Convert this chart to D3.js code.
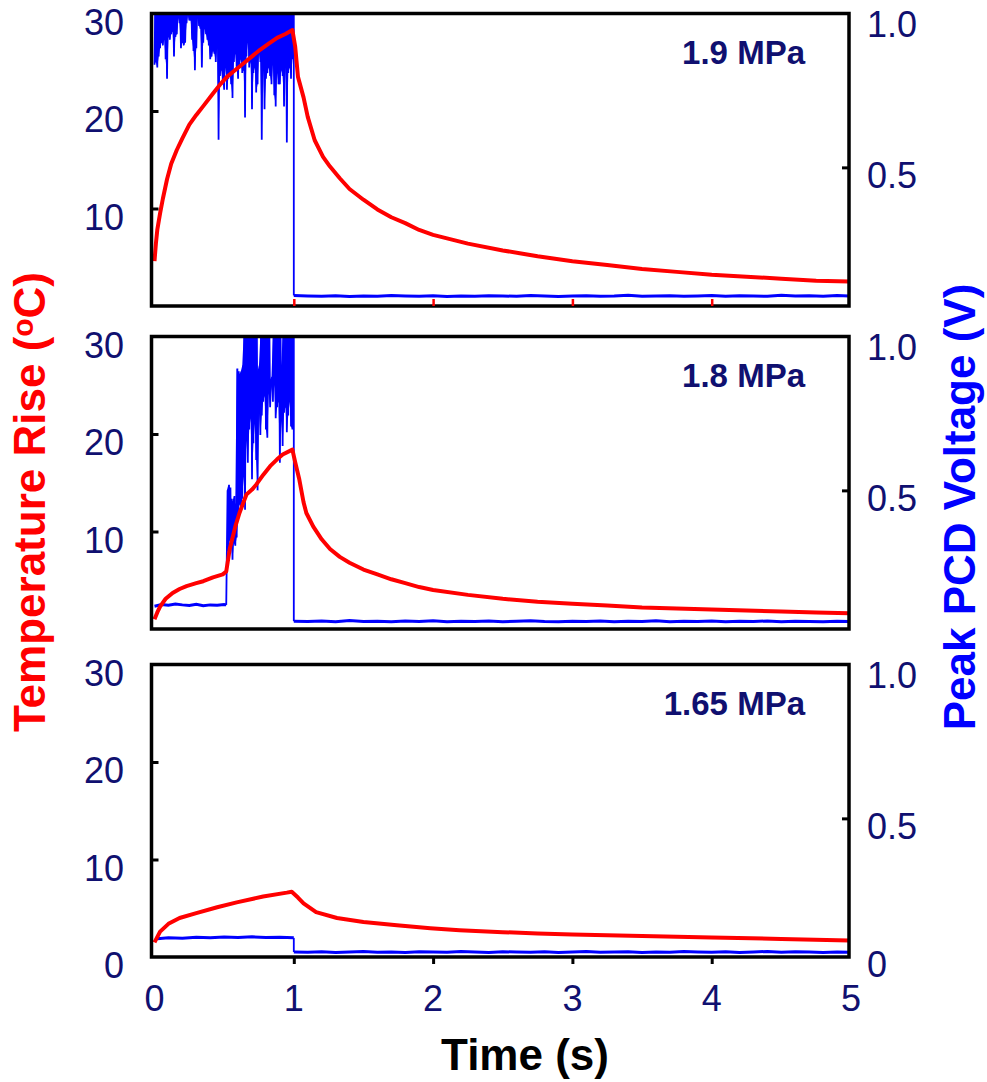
<!DOCTYPE html>
<html>
<head>
<meta charset="utf-8">
<script src="https://cdn.jsdelivr.net/npm/d3@7"></script>
<style>
  body { margin: 0; background: #fff; }
  svg text { font-family: "Liberation Sans", Arial, Helvetica, sans-serif; }
</style>
</head>
<body>
<div id="chart"></div>
<script>
// Axis ticks and panel labels
var timeTicks = [0, 1, 2, 3, 4, 5];
var tempTicks = [0, 10, 20, 30];
var voltTicks = [0, 0.5, 1.0];
var pressures = ["1.9 MPa", "1.8 MPa", "1.65 MPa"];

// Temperature rise (ºC) vs time (s)
var temp19 = [[0,4.6],[0.01,6.4],[0.02,7.8],[0.04,9.5],[0.06,11.0],[0.09,13.0],[0.12,14.6],[0.16,16.0],
  [0.2,17.2],[0.25,18.6],[0.3,19.6],[0.35,20.5],[0.42,21.8],[0.47,22.7],[0.52,23.5],[0.58,24.2],
  [0.64,24.9],[0.7,25.6],[0.76,26.3],[0.82,26.9],[0.88,27.5],[0.94,27.9],[0.99,28.3],[1.01,26.6],
  [1.03,23.5],[1.07,21.4],[1.1,19.4],[1.15,17.0],[1.21,15.3],[1.26,14.3],[1.33,13.1],[1.4,12.0],
  [1.5,10.9],[1.6,9.9],[1.7,9.1],[1.8,8.5],[1.9,7.8],[2.0,7.3],[2.25,6.4],[2.5,5.7],[2.75,5.1],
  [3.0,4.6],[3.25,4.2],[3.5,3.8],[3.75,3.5],[4.0,3.2],[4.25,3.0],[4.5,2.8],[4.75,2.6],[5.0,2.5]];
var temp18 = [[0,1.0],[0.02,1.7],[0.04,2.3],[0.08,3.1],[0.13,3.7],[0.18,4.1],[0.23,4.4],[0.3,4.7],
  [0.35,4.9],[0.42,5.3],[0.49,5.6],[0.515,5.9],[0.54,8.2],[0.58,10.5],[0.61,11.9],[0.66,13.8],
  [0.7,14.3],[0.73,14.8],[0.78,15.8],[0.83,16.7],[0.88,17.4],[0.92,17.9],[0.99,18.4],[1.01,17.1],
  [1.04,15.3],[1.07,13.0],[1.09,11.9],[1.14,10.5],[1.2,9.2],[1.26,8.2],[1.33,7.4],[1.4,6.8],
  [1.5,6.1],[1.6,5.6],[1.7,5.1],[1.8,4.7],[1.9,4.3],[2.0,4.0],[2.25,3.5],[2.5,3.1],[2.75,2.8],
  [3.0,2.6],[3.25,2.4],[3.5,2.2],[3.75,2.1],[4.0,2.0],[4.25,1.9],[4.5,1.8],[4.75,1.7],[5.0,1.6]];
var temp165 = [[0,1.5],[0.04,2.6],[0.1,3.4],[0.18,4.0],[0.3,4.5],[0.45,5.1],[0.59,5.6],[0.78,6.2],
  [0.95,6.6],[0.985,6.7],[1.03,6.1],[1.07,5.5],[1.16,4.6],[1.31,4.0],[1.5,3.6],[1.74,3.25],
  [1.98,2.95],[2.19,2.75],[2.5,2.55],[2.75,2.42],[3.0,2.32],[3.5,2.15],[4.0,2.0],[4.5,1.85],[5.0,1.7]];

// Peak PCD voltage (V); the detector saturates above the top of the frame
var pcdSat = 1.06;
// 1.9 MPa: lower edge of the burst, every 10 ms from 0 to 0.99 s
var pcd19Lo = [.87,.88,.86,.90,.93,.95,.94,.96,.89,.82,
  .97,.96,.98,.99,.90,.97,.98,1.04,1.02,.93,
  .95,.94,.95,1.02,1.05,1.03,1.03,.96,.92,.85,
  .93,1.04,1.01,1.00,.86,.95,1.00,.98,.96,.94,
  .89,.90,.92,.91,.88,.93,.60,.83,.85,.80,
  .78,.86,.78,.82,.84,.80,.75,.88,.91,.85,
  .82,.87,.89,.84,.85,.68,.90,.95,.86,.88,
  .71,.84,.86,.77,.80,.91,.88,.60,.85,.71,
  .82,.84,.86,.83,.80,.87,.76,.72,.84,.80,
  .80,.85,.83,.72,.86,.59,.84,.86,.82,.89];
// 1.8 MPa: before the burst, then burst upper/lower edges every 10 ms from 0.52 to 0.99 s
var pcd18Pre = [[0,.082],[0.05,.088],[0.1,.086],[0.15,.090],[0.2,.087],[0.25,.085],[0.3,.089],
  [0.35,.084],[0.4,.087],[0.45,.086],[0.5,.088],[0.515,.087]];
var pcd18Hi = [.50,.52,.51,.47,.46,.48,.45,.94,.93,.92,
  .93,.95,1.06,1.06,1.06,1.06,1.06,1.06,1.06,1.06,
  1.06,1.06,.93,.95,1.06,1.06,1.06,1.06,1.06,1.06,
  1.06,.90,.91,1.06,1.06,1.06,1.06,1.06,1.06,.95,
  1.06,1.06,1.06,1.06,1.06,1.06,1.06,1.06];
var pcd18Lo = [.30,.28,.32,.30,.25,.31,.30,.33,.40,.45,
  .43,.47,.55,.43,.68,.60,.72,.76,.54,.67,
  .74,.61,.50,.78,.70,.77,.82,.84,.72,.69,
  .85,.80,.88,.82,.88,.76,.80,.82,.60,.75,
  .66,.78,.80,.71,.77,.82,.73,.72];
// 1.65 MPa: no burst
var pcd165Pre = [[0.02,.066],[0.1,.069],[0.2,.068],[0.3,.071],[0.4,.069],[0.5,.072],[0.6,.070],
  [0.7,.073],[0.8,.070],[0.9,.071],[1.0,.069]];
// After the pulse, every 100 ms from 1 to 5 s
var pcd19Post = [.038,.036,.035,.037,.034,.036,.035,.038,.036,.035,
  .037,.034,.036,.035,.037,.036,.035,.038,.036,.034,
  .036,.037,.035,.036,.039,.035,.036,.037,.035,.036,
  .038,.035,.037,.036,.035,.039,.036,.037,.035,.038,.036];
var pcd18Post = [.028,.027,.029,.026,.031,.027,.028,.026,.029,.027,
  .030,.026,.028,.027,.029,.026,.028,.030,.027,.026,
  .028,.027,.029,.026,.028,.027,.030,.026,.028,.027,
  .029,.026,.028,.027,.029,.026,.028,.027,.026,.028,.027];
var pcd165Post = [.018,.017,.019,.016,.018,.020,.017,.018,.016,.019,
  .018,.017,.020,.018,.016,.019,.018,.017,.019,.016,
  .018,.020,.017,.018,.019,.016,.018,.017,.020,.018,
  .017,.019,.016,.018,.020,.017,.019,.018,.016,.018,.017];

var postTime = d3.range(41).map(function (i) { return 1 + i * 0.1; });

var panels = [
  { label: pressures[0], temp: temp19, pre: [],
    burst: { t: d3.range(100).map(function (i) { return i * 0.01; }), hi: null, lo: pcd19Lo },
    post: pcd19Post },
  { label: pressures[1], temp: temp18, pre: pcd18Pre,
    burst: { t: d3.range(48).map(function (i) { return 0.52 + i * 0.01; }), hi: pcd18Hi, lo: pcd18Lo },
    post: pcd18Post },
  { label: pressures[2], temp: temp165, pre: pcd165Pre, burst: null, post: pcd165Post }
];

// Layout
var W = 987, H = 1082;
var boxLeft = 151.5, boxRight = 849, panelH = 292.5;
var panelTops = [13.5, 336.5, 664.5];
var navy = "#101070";

var svg = d3.select("#chart")
  .append("svg")
  .attr("width", W)
  .attr("height", H);

var x = d3.scaleLinear().domain([0, 5]).range([154.5, 851]);

panels.forEach(function (p, i) {
  var top = panelTops[i], bottom = top + panelH;
  var y = d3.scaleLinear().domain([0, 30]).range([bottom, top]);
  var yR = d3.scaleLinear().domain([0, 1.055]).range([bottom, top]);
  var yRLab = d3.scaleLinear().domain([0, 0.5, 1]).range([bottom + 7, bottom - 131, top + 10]);
  var last = i === panels.length - 1;

  var g = svg.append("g");

  g.append("clipPath")
    .attr("id", "clip" + i)
    .append("rect")
    .attr("x", boxLeft).attr("y", top)
    .attr("width", boxRight - boxLeft).attr("height", panelH);

  var plot = g.append("g").attr("clip-path", "url(#clip" + i + ")");

  var blueLine = d3.line()
    .x(function (d) { return x(d[0]); })
    .y(function (d) { return yR(d[1]); });
  var postPts = postTime.map(function (t, k) { return [t, p.post[k]]; });

  // blue: before the burst
  if (p.pre.length) {
    plot.append("path")
      .datum(p.pre)
      .attr("d", blueLine)
      .attr("fill", "none").attr("stroke", "#0000ff").attr("stroke-width", 3);
  }

  // blue: burst band between lower and upper edges, then the drop at 1 s
  var mid = [];
  if (p.pre.length) mid.push(p.pre[p.pre.length - 1]);
  if (p.burst) {
    var band = p.burst.t.map(function (t, k) {
      return [t, p.burst.lo[k], p.burst.hi ? p.burst.hi[k] : pcdSat];
    });
    plot.append("path")
      .datum(band)
      .attr("d", d3.area()
        .x(function (d) { return x(d[0]); })
        .y0(function (d) { return yR(d[1]); })
        .y1(function (d) { return yR(d[2]); }))
      .attr("fill", "#0000ff");
    band.forEach(function (d) {
      mid.push([d[0], d[1]]);
      mid.push([d[0] + 0.005, d[2]]);
    });
    mid.push([1.0, mid[mid.length - 1][1]]);
  }
  mid.push(postPts[0]);
  plot.append("path")
    .datum(mid)
    .attr("d", blueLine)
    .attr("fill", "none").attr("stroke", "#0000ff").attr("stroke-width", 1.8);

  // blue: after the pulse
  plot.append("path")
    .datum(postPts)
    .attr("d", blueLine)
    .attr("fill", "none").attr("stroke", "#0000ff").attr("stroke-width", 3);

  // red: temperature
  plot.append("path")
    .datum(p.temp)
    .attr("d", d3.line()
      .x(function (d) { return x(d[0]); })
      .y(function (d) { return y(d[1]); }))
    .attr("fill", "none")
    .attr("stroke", "#ff0000")
    .attr("stroke-width", 4)
    .attr("stroke-linejoin", "round");

  // frame
  g.append("rect")
    .attr("x", boxLeft).attr("y", top)
    .attr("width", boxRight - boxLeft).attr("height", panelH)
    .attr("fill", "none").attr("stroke", "#000").attr("stroke-width", 3.5);

  // inward ticks
  var leftAx = g.append("g")
    .attr("transform", "translate(" + boxLeft + ",0)")
    .call(d3.axisLeft(y).tickValues([10, 20]).tickSizeInner(-7).tickSizeOuter(0).tickFormat(""));
  var rightAx = g.append("g")
    .attr("transform", "translate(" + boxRight + ",0)")
    .call(d3.axisRight(yR).tickValues([0.5]).tickSizeInner(-7).tickSizeOuter(0).tickFormat(""));
  [leftAx, rightAx].forEach(function (a) {
    a.select(".domain").remove();
    a.selectAll("line").attr("stroke", "#000").attr("stroke-width", 3);
  });

  if (i === 0) {
    // red ticks on the first frame's bottom edge
    var redAx = g.append("g")
      .attr("transform", "translate(0," + bottom + ")")
      .call(d3.axisBottom(x).tickValues([1, 2, 3, 4]).tickSizeInner(-7).tickSizeOuter(0).tickFormat(""));
    redAx.select(".domain").remove();
    redAx.selectAll("line").attr("stroke", "#ff0000").attr("stroke-width", 2.5);
  }

  if (last) {
    var botAx = g.append("g")
      .attr("transform", "translate(0," + bottom + ")")
      .call(d3.axisBottom(x).tickValues([1, 2, 3, 4]).tickSizeInner(7).tickSizeOuter(0).tickFormat(""));
    botAx.select(".domain").remove();
    botAx.selectAll("line").attr("stroke", "#000").attr("stroke-width", 3);

    g.selectAll("text.xlab")
      .data(timeTicks)
      .enter()
      .append("text")
      .attr("class", "xlab")
      .attr("x", function (d) { return x(d); })
      .attr("y", 1011)
      .attr("text-anchor", "middle")
      .attr("font-size", "36px")
      .attr("fill", navy)
      .text(function (d) { return d; });
  }

  // tick labels
  g.selectAll("text.ylab")
    .data(tempTicks.filter(function (d) { return d > 0 || last; }))
    .enter()
    .append("text")
    .attr("class", "ylab")
    .attr("x", 124)
    .attr("y", function (d) { return y(d) + 21; })
    .attr("text-anchor", "end")
    .attr("font-size", "36px")
    .attr("fill", navy)
    .text(function (d) { return d; });

  g.selectAll("text.rlab")
    .data(voltTicks.filter(function (d) { return d > 0 || last; }))
    .enter()
    .append("text")
    .attr("class", "rlab")
    .attr("x", 867)
    .attr("y", function (d) { return yRLab(d) + 13; })
    .attr("text-anchor", "start")
    .attr("font-size", "36px")
    .attr("fill", navy)
    .text(function (d) { return d === 0 ? "0" : d3.format(".1f")(d); });

  // pressure label
  g.append("text")
    .attr("x", 805)
    .attr("y", top + 50)
    .attr("text-anchor", "end")
    .attr("font-size", "33px")
    .attr("font-weight", "bold")
    .attr("fill", navy)
    .text(p.label);
});

// axis titles
var tl = svg.append("text")
  .attr("transform", "translate(45,502) rotate(-90)")
  .attr("text-anchor", "middle")
  .attr("font-size", "44px")
  .attr("font-weight", "bold")
  .attr("fill", "#ff0000");
tl.append("tspan").text("Temperature Rise (");
tl.append("tspan").attr("font-size", "30px").attr("dy", -12).text("o");
tl.append("tspan").attr("dy", 12).text("C)");

svg.append("text")
  .attr("transform", "translate(975,507) rotate(-90)")
  .attr("text-anchor", "middle")
  .attr("font-size", "44px")
  .attr("font-weight", "bold")
  .attr("fill", "#0000ff")
  .text("Peak PCD Voltage (V)");

svg.append("text")
  .attr("x", 525)
  .attr("y", 1070)
  .attr("text-anchor", "middle")
  .attr("font-size", "44px")
  .attr("font-weight", "bold")
  .attr("fill", "#000")
  .text("Time (s)");
</script>
</body>
</html>
